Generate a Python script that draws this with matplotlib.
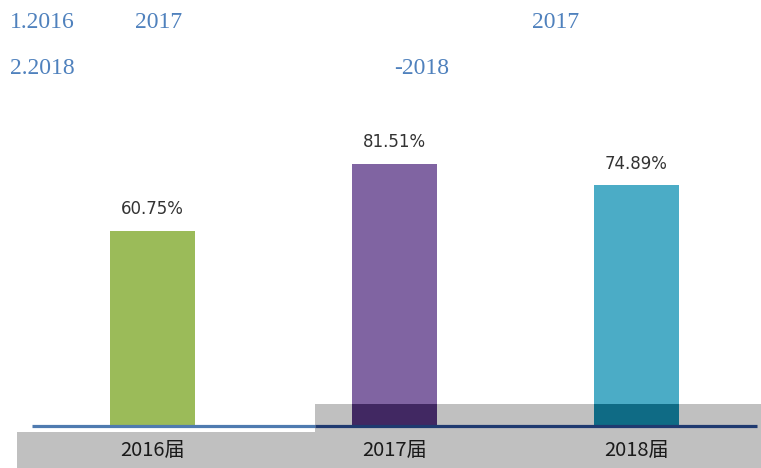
import matplotlib
matplotlib.use("Agg")
import matplotlib.pyplot as plt
from matplotlib.patches import Rectangle

plt.rcParams['font.family'] = ['Noto Sans CJK SC', 'DejaVu Sans']

# data
years = ["2016届", "2017届", "2018届"]
rates = [60.75, 81.51, 74.89]
bar_colors = ["#9bbb59", "#8064a2", "#4bacc6"]
dark_colors = ["#4a5a2a", "#412862", "#0f6b85"]
header_row1 = [("1.2016", 10), ("2017", 135), ("2017", 532)]
header_row2 = [("2.2018", 10), ("-2018", 394)]

W, H = 761, 468
fig = plt.figure(figsize=(W / 100, H / 100), dpi=100)

# background layer in pixel coordinates (screenshot decorations)
bg = fig.add_axes([0, 0, 1, 1])
bg.set_xlim(0, W)
bg.set_ylim(H, 0)
bg.axis("off")
bg.add_patch(Rectangle((17, 432), W - 17, H - 432, color="#c0c0c0", lw=0, zorder=0))
band = Rectangle((315, 404), W - 315, 28, color="#c0c0c0", lw=0, zorder=0)
bg.add_patch(band)

for txt, x in header_row1:
    bg.text(x, 22, txt, family="Liberation Serif", fontsize=17, color="#4f81bd",
            va="center", ha="left")
for txt, x in header_row2:
    bg.text(x, 69, txt, family="Liberation Serif", fontsize=17, color="#4f81bd",
            va="center", ha="left")

# bars: 0% at y=425px, 3.2 px per percent; centres 242 px apart
ax = fig.add_axes([0, 43 / H, 1, 320 / H])
ax.patch.set_alpha(0)
ax.set_xlim(-152.5 / 242, (W - 152.5) / 242)
ax.set_ylim(0, 100)
ax.axis("off")
xs = list(range(len(years)))
ax.bar(xs, rates, width=85 / 242, color=bar_colors, zorder=2)
dark = ax.bar(xs, rates, width=85 / 242, color=dark_colors, zorder=3)
for b in dark:
    b.set_clip_path(band)

for x, v in zip(xs, rates):
    ax.text(x, v + 6.8, f"{v:.2f}%", ha="center", va="center",
            fontsize=12, color="#333333", family="DejaVu Sans")

# baseline and category labels on top
top = fig.add_axes([0, 0, 1, 1])
top.set_xlim(0, W)
top.set_ylim(H, 0)
top.axis("off")
top.plot([32, 315], [426, 426], color="#4f7bb0", lw=2.3, solid_capstyle="butt")
top.plot([315, 757], [426, 426], color="#1f3a70", lw=2.3, solid_capstyle="butt")
for i, name in enumerate(years):
    top.text(152.5 + 242 * i, 451, name, ha="center", va="center",
             fontsize=14.5, color="#1a1a1a")

fig.savefig("out.png", dpi=100)
